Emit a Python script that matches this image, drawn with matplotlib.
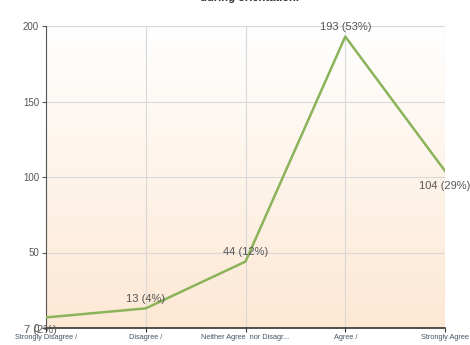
import matplotlib.pyplot as plt
import numpy as np
from matplotlib.colors import LinearSegmentedColormap

categories = ['Strongly Disagree /', 'Disagree /', 'Neither Agree  nor Disagr...', 'Agree /', 'Strongly Agree']
counts = [7, 13, 44, 193, 104]
pcts = [2, 4, 12, 53, 29]
label_offsets = [(-4, -9), (0, 7), (0, 7), (0, 7), (0, -11)]

plt.rcParams['font.family'] = ['Liberation Sans', 'DejaVu Sans']

fig = plt.figure(figsize=(4.7, 3.45), dpi=100)
ax = fig.add_axes([46 / 470, 17 / 345, 399 / 470, 302 / 345])

x = np.arange(len(categories))

# gradient background
cmap = LinearSegmentedColormap.from_list('bg', ['#ffffff', '#fde8d4'])
grad = np.linspace(0, 1, 256).reshape(-1, 1)
ax.imshow(grad, cmap=cmap, aspect='auto', extent=[0, 1, 0, 1],
          transform=ax.transAxes, zorder=0)

ax.plot(x, counts, color='#8ab35a', lw=1.8, zorder=3)

for xi, c, p, off in zip(x, counts, pcts, label_offsets):
    ax.annotate(f'{c} ({p}%)', (xi, c), xytext=off, textcoords='offset points',
                ha='center', va='center', fontsize=8, color='#555555', zorder=4)

ax.set_xlim(0, len(categories) - 1)
ax.set_ylim(0, 200)
ax.set_yticks([0, 50, 100, 150, 200])
ax.set_xticks(x)
ax.set_xticklabels(categories, fontsize=5.3, color='#445566')
ax.tick_params(axis='y', labelsize=7, colors='#555555', length=3, pad=2)
ax.tick_params(axis='x', length=3, pad=1, color='#333333')
ax.grid(True, color='#d8d8d8', lw=0.8, zorder=1)
ax.set_axisbelow(True)

for s in ['top', 'right']:
    ax.spines[s].set_visible(False)
ax.spines['left'].set_color('#555555')
ax.spines['bottom'].set_color('#333333')
ax.spines['bottom'].set_linewidth(1.2)

fig.text(250 / 470, 1 - 3 / 345, 'during orientation.', ha='center', va='bottom',
         fontsize=8, fontweight='bold', color='#333333')

fig.savefig('out.png', dpi=100)
